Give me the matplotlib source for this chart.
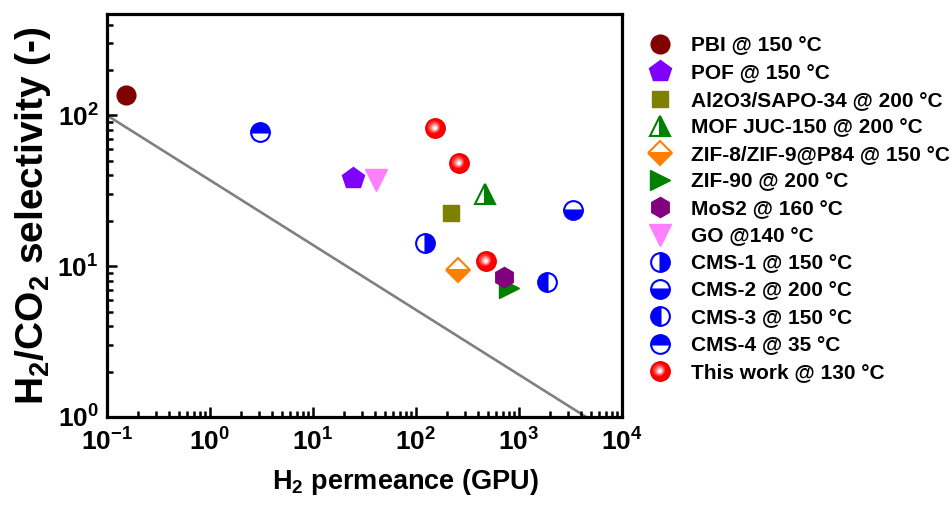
import matplotlib
matplotlib.use("Agg")
import matplotlib.pyplot as plt
from matplotlib.markers import MarkerStyle
from matplotlib.transforms import Affine2D
from matplotlib.legend_handler import HandlerTuple

plt.rcParams['font.family'] = ['Liberation Sans', 'DejaVu Sans']
plt.rcParams['font.weight'] = 'bold'
plt.rcParams['mathtext.default'] = 'regular'

# data (H2 permeance in GPU, H2/CO2 selectivity)
pbi_x, pbi_y = [0.152], [136]
pof_x, pof_y = [24.5], [38.5]
sapo_x, sapo_y = [220], [22.4]
juc_x, juc_y = [465], [30.3]
zif8_x, zif8_y = [256], [9.4]
zif90_x, zif90_y = [805], [7.2]
mos2_x, mos2_y = [716], [8.5]
go_x, go_y = [41], [37.5]
cms1_x, cms1_y = [121], [14.2]
cms2_x, cms2_y = [3330], [23.5]
cms3_x, cms3_y = [1860], [7.9]
cms4_x, cms4_y = [3.06], [77]
work_x = [152, 264, 479]
work_y = [82, 48, 10.9]

bound_x = [0.1, 4480]
bound_y = [100, 1]

fig = plt.figure(figsize=(9.53, 5.05), dpi=100)
ax = fig.add_axes([0.1123, 0.1743, 0.5404, 0.798])

ax.plot(bound_x, bound_y, color='#808080', lw=1.9, zorder=1)

handles = []
labels = []

def pt(x, y, label, **kw):
    h, = ax.plot(x, y, ls='none', **kw)
    handles.append(h)
    labels.append(label)

pt(pbi_x, pbi_y, 'PBI @ 150 °C', marker='o', ms=13.5, color='#800000', mec='#800000')
pt(pof_x, pof_y, 'POF @ 150 °C', marker='p', ms=16, color='#8000FF', mec='#8000FF')
pt(sapo_x, sapo_y, 'Al2O3/SAPO-34 @ 200 °C', marker='s', ms=12, color='#808000', mec='#808000')
pt(juc_x, juc_y, 'MOF JUC-150 @ 200 °C', marker='^', ms=15, color='#008000', mec='#008000',
   mew=1.5, fillstyle='right', markerfacecoloralt='white')
pt(zif8_x, zif8_y, 'ZIF-8/ZIF-9@P84 @ 150 °C', marker='D', ms=12, color='#FF8000', mec='#FF8000',
   mew=1.5, fillstyle='bottom', markerfacecoloralt='white')
pt(zif90_x, zif90_y, 'ZIF-90 @ 200 °C', marker='>', ms=15, color='#008000', mec='#008000')
pt(mos2_x, mos2_y, 'MoS2 @ 160 °C', marker='h', ms=14.5, color='#800080', mec='#800080')
pt(go_x, go_y, 'GO @140 °C', marker='v', ms=15.5, color='#FF80FF', mec='#FF80FF')
pt(cms1_x, cms1_y, 'CMS-1 @ 150 °C', marker='o', ms=13.5, color='#0000FF', mec='#0000FF',
   mew=1.5, fillstyle='right', markerfacecoloralt='white')
pt(cms2_x, cms2_y, 'CMS-2 @ 200 °C', marker='o', ms=13.5, color='#0000FF', mec='#0000FF',
   mew=1.5, fillstyle='bottom', markerfacecoloralt='white')
pt(cms3_x, cms3_y, 'CMS-3 @ 150 °C', marker='o', ms=13.5, color='#0000FF', mec='#0000FF',
   mew=1.5, fillstyle='left', markerfacecoloralt='white')
pt(cms4_x, cms4_y, 'CMS-4 @ 35 °C', marker='o', ms=13.5, color='#0000FF', mec='#0000FF',
   mew=1.5, fillstyle='top', markerfacecoloralt='white')

# "this work": red balls with a shiny highlight
ball = []
ball.append(ax.plot(work_x, work_y, ls='none', marker='o', ms=14, color='#FF0000',
                    mec='#EE0000', zorder=3)[0])
shine = [(9, '#FF3333'), (6.5, '#FF7777'), (4.5, '#FFBBBB'), (2.5, 'white')]
for size, col in shine:
    m = MarkerStyle('o', transform=Affine2D().translate(-0.12, 0.12))
    ball.append(ax.plot(work_x, work_y, ls='none', marker=m, ms=size, color=col,
                        mec='none', zorder=3)[0])
handles.append(tuple(ball))
labels.append('This work @ 130 °C')

ax.set_xscale('log')
ax.set_yscale('log')
ax.set_xlim(0.1, 1e4)
ax.set_ylim(1, 470)

for s in ax.spines.values():
    s.set_linewidth(2.3)
ax.tick_params(which='both', direction='in', top=False, right=False, width=1.8, labelsize=19)
ax.tick_params(axis='x', pad=8)
ax.tick_params(axis='y', pad=6)
ax.tick_params(which='major', length=7)
ax.tick_params(which='minor', length=4)

ax.set_xlabel('H$_2$ permeance (GPU)', fontsize=19.5, fontweight='bold')
ax.xaxis.set_label_coords(0.58, -0.125)
ax.set_ylabel('H$_2$/CO$_2$ selectivity (-)', fontsize=28, fontweight='bold')
ax.yaxis.set_label_coords(-0.105, 0.5)

fig.legend(handles, labels, loc='upper left', bbox_to_anchor=(0.682, 0.928),
           frameon=False, fontsize=15, borderpad=0, borderaxespad=0,
           handlelength=1.0, handletextpad=0.95, labelspacing=0.395,
           handler_map={tuple: HandlerTuple(ndivide=1)})

fig.savefig('out.png', dpi=100)
